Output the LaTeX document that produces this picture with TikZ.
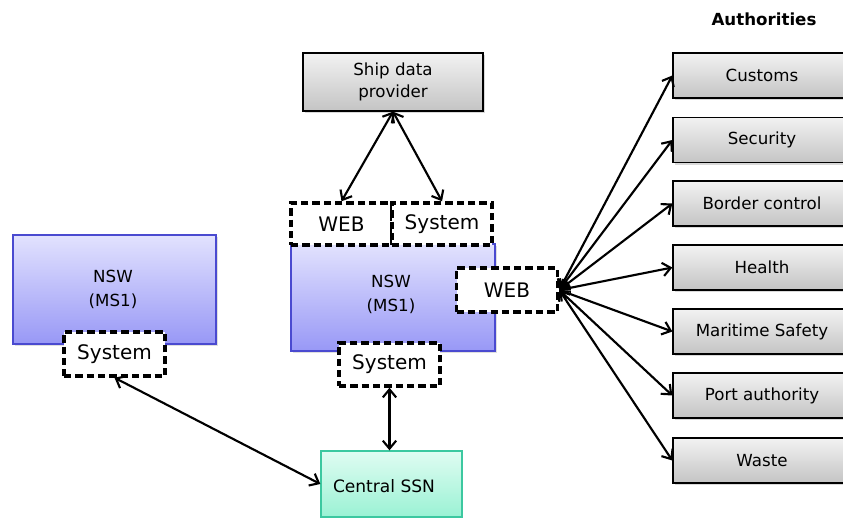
\documentclass[tikz,border=0pt]{standalone}
\usepackage{fontspec}
\setmainfont{DejaVu Sans}
\usetikzlibrary{arrows.meta,shadows}
\definecolor{graytop}{HTML}{F2F2F2}
\definecolor{graybot}{HTML}{C4C4C4}
\definecolor{bluetop}{HTML}{E2E2FE}
\definecolor{bluebot}{HTML}{9898F6}
\definecolor{blueedge}{HTML}{4A4AD0}
\definecolor{tealtop}{HTML}{E0FCF2}
\definecolor{tealbot}{HTML}{9AF2D4}
\definecolor{tealedge}{HTML}{3CC8A0}
\tikzset{
  graybox/.style={rectangle, inner sep=0pt, draw=black, line width=1pt,
    top color=graytop, bottom color=graybot, align=center,
    font=\fontsize{12.5}{17}\selectfont,
    drop shadow={opacity=0.3, shadow xshift=1.5pt, shadow yshift=-1.5pt}},
  authbox/.style={graybox, minimum width=133.5pt, minimum height=33.75pt},
  nswbox/.style={rectangle, inner sep=0pt, draw=blueedge, line width=0.9pt,
    top color=bluetop, bottom color=bluebot,
    drop shadow={opacity=0.25, shadow xshift=1.2pt, shadow yshift=-1.2pt}},
  nswtext/.style={font=\fontsize{12.5}{18}\selectfont, align=center},
  dbox/.style={rectangle, inner sep=0pt, draw=black, fill=white, line width=2.6pt,
    dash pattern=on 5.5pt off 3pt, font=\fontsize{15}{18}\selectfont},
  ssnbox/.style={rectangle, inner sep=0pt, draw=tealedge, line width=1pt,
    top color=tealtop, bottom color=tealbot},
  conn/.style={line width=1.6pt, {Straight Barb[length=6pt,width=10pt,line width=1.6pt]}-{Straight Barb[length=6pt,width=10pt,line width=1.6pt]}},
}
\begin{document}
\begin{tikzpicture}[x=0.75pt,y=-0.75pt]
\useasboundingbox (0,0) rectangle (843,518);

\node[font=\bfseries\fontsize{12.5}{15}\selectfont] (authtitle) at (764,19) {Authorities};

% Ship data provider
\node[graybox, minimum width=135pt, minimum height=43.5pt] (ship) at (393,82) {Ship data\\provider};

% Middle NSW
\node[nswbox, minimum width=153pt, minimum height=80.25pt] (nsw2) at (393,297.5) {};
\node[nswtext] (nsw2t) at (391,294) {NSW\\(MS1)};
\node[dbox, minimum width=75.75pt, minimum height=31.5pt] (web1) at (341.5,224) {WEB};
\node[dbox, minimum width=75pt, minimum height=31.5pt] (sys1) at (442,224) {System};
\node[dbox, minimum width=75.75pt, minimum height=33pt] (web2) at (507,290) {WEB};
\node[dbox, minimum width=75.75pt, minimum height=32.25pt] (sys2) at (389.5,364.5) {System};

% Left NSW
\node[nswbox, minimum width=152.25pt, minimum height=81.75pt] (nsw1) at (114.5,289.5) {};
\node[nswtext] (nsw1t) at (113,289) {NSW\\(MS1)};
\node[dbox, minimum width=75.75pt, minimum height=33pt] (sysL) at (114.5,354) {System};

% Central SSN
\node[ssnbox, minimum width=105.75pt, minimum height=49.5pt] (ssn) at (391.5,484) {};
\node[font=\fontsize{12.8}{16}\selectfont] (ssnt) at (384,486) {Central SSN};

% Authorities
\node[authbox] (a1) at (762,75.5) {Customs};
\node[authbox] (a2) at (762,140) {Security};
\node[authbox] (a3) at (762,203.5) {Border control};
\node[authbox] (a4) at (762,267.5) {Health};
\node[authbox] (a5) at (762,331.5) {Maritime Safety};
\node[authbox] (a6) at (762,395.5) {Port authority};
\node[authbox] (a7) at (762,460.5) {Waste};

% Connectors
\draw[conn] (ship.south) -- (web1.north);
\draw[conn] (ship.south) -- (sys1.north);
\draw[conn] (sys2.south) -- (ssn.north -| sys2.south);
\draw[conn] (sysL.south) -- (ssn.west);
\foreach \a in {a1,a2,a3,a4,a5,a6,a7}
  \draw[conn] (web2.east) -- (\a.west);
\end{tikzpicture}
\end{document}
